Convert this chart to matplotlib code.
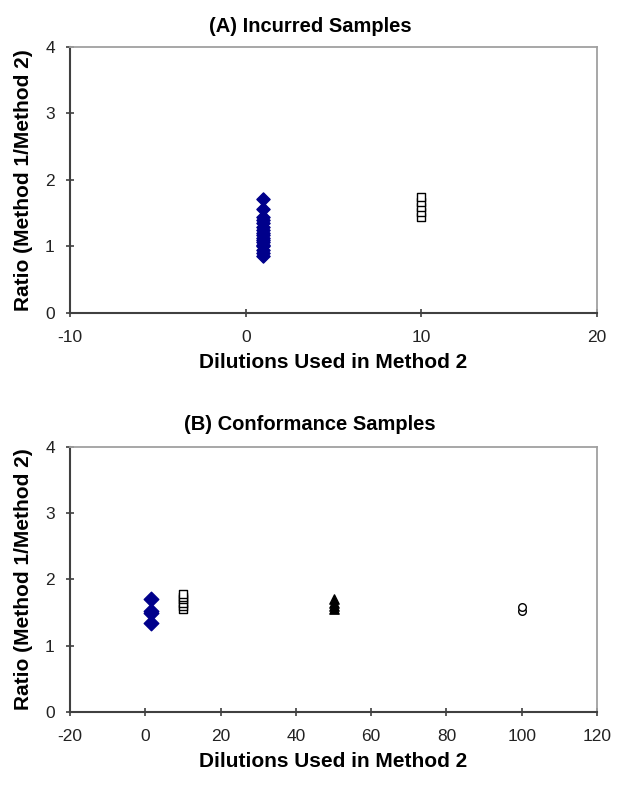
import matplotlib
matplotlib.use("Agg")
import matplotlib.pyplot as plt

plt.rcParams['font.family'] = ['Liberation Sans', 'DejaVu Sans']
plt.rcParams['axes.unicode_minus'] = False

# Panel A: Incurred samples
a_diamond_x = [1] * 17
a_diamond_y = [0.85, 0.90, 0.95, 1.00, 1.03, 1.07, 1.10, 1.13, 1.17, 1.20,
               1.25, 1.30, 1.35, 1.40, 1.45, 1.57, 1.72]
a_square_x = [10] * 5
a_square_y = [1.45, 1.52, 1.60, 1.67, 1.75]

# Panel B: Conformance samples
b_diamond_x = [1.5] * 4
b_diamond_y = [1.35, 1.50, 1.52, 1.70]
b_square_x = [10] * 6
b_square_y = [1.55, 1.60, 1.65, 1.70, 1.73, 1.78]
b_triangle_x = [50] * 4
b_triangle_y = [1.55, 1.60, 1.65, 1.70]
b_circle_x = [100] * 2
b_circle_y = [1.52, 1.58]

xticks_a = [-10, 0, 10, 20]
xticks_b = [-20, 0, 20, 40, 60, 80, 100, 120]
yticks = [0, 1, 2, 3, 4]

navy = '#00008B'
axis_col = '#404040'

fig = plt.figure(figsize=(6.2, 7.91), dpi=100)
axA = fig.add_axes([0.113, 0.6043, 0.850, 0.3363])
axB = fig.add_axes([0.113, 0.0999, 0.850, 0.3350])


def style(ax, xticks):
    ax.set_xlim(xticks[0], xticks[-1])
    ax.set_ylim(0, 4)
    ax.set_xticks(xticks)
    ax.set_yticks(yticks)
    ax.tick_params(direction='inout', length=6, width=1.2, labelsize=12.5,
                   color=axis_col, labelcolor='#222222')
    ax.tick_params(axis='x', pad=9)
    ax.tick_params(axis='y', pad=8)
    for s in ['left', 'bottom']:
        ax.spines[s].set_color(axis_col)
        ax.spines[s].set_linewidth(1.5)
    for s in ['top', 'right']:
        ax.spines[s].set_color('#a0a0a0')
        ax.spines[s].set_linewidth(1.3)
    ax.set_xlabel('Dilutions Used in Method 2', fontsize=15, fontweight='bold', labelpad=6)
    ax.set_ylabel('Ratio (Method 1/Method 2)', fontsize=15, fontweight='bold', labelpad=9)


axA.scatter(a_diamond_x, a_diamond_y, marker='D', s=45, color=navy, edgecolors=navy, zorder=3)
axA.scatter(a_square_x, a_square_y, marker='s', s=30, facecolors='white', edgecolors='black', linewidths=1, zorder=3)
style(axA, xticks_a)

axB.scatter(b_diamond_x, b_diamond_y, marker='D', s=55, color=navy, edgecolors=navy, zorder=3)
axB.scatter(b_square_x, b_square_y, marker='s', s=30, facecolors='white', edgecolors='black', linewidths=1, zorder=3)
axB.scatter(b_triangle_x, b_triangle_y, marker='^', s=45, color='black', zorder=3)
axB.scatter(b_circle_x, b_circle_y, marker='o', s=30, facecolors='white', edgecolors='black', linewidths=1, zorder=3)
style(axB, xticks_b)

fig.text(0.5, 1 - 27 / 791, '(A) Incurred Samples', ha='center', va='center', fontsize=14.5, fontweight='bold')
fig.text(0.5, 1 - 424 / 791, '(B) Conformance Samples', ha='center', va='center', fontsize=14.5, fontweight='bold')

fig.savefig('out.png', dpi=100)
